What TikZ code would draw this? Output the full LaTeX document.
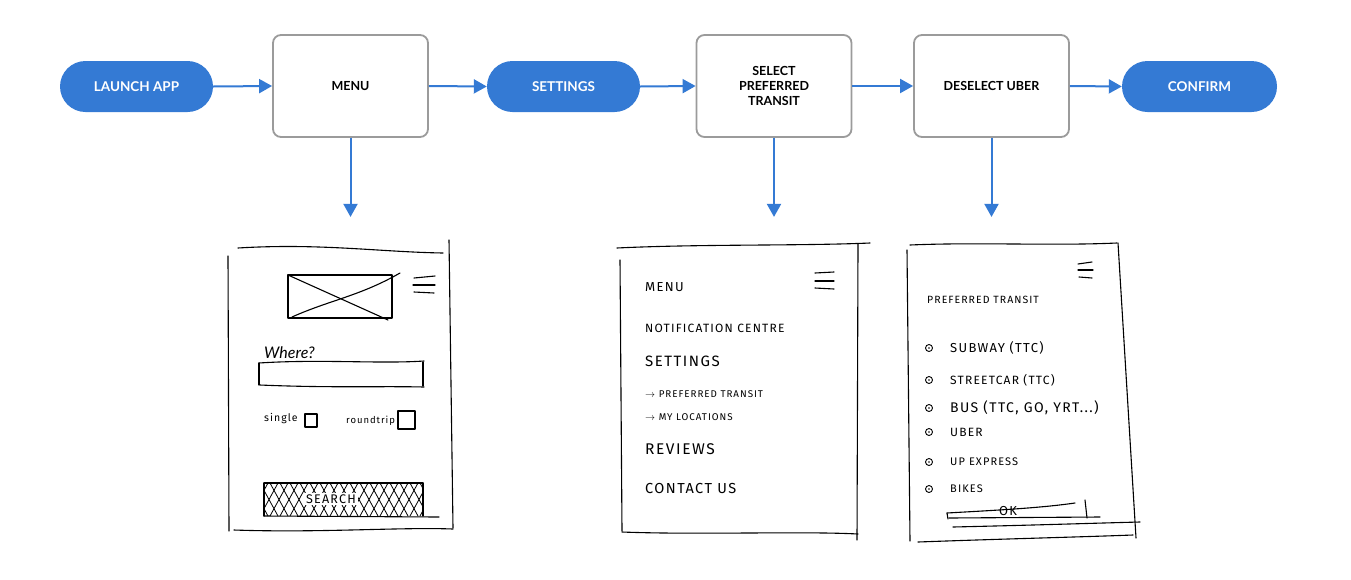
\documentclass[tikz,border=0pt]{standalone}
\usepackage{fontspec}
\setmainfont{Lato}
\newfontfamily\sketchfont[LetterSpace=10]{Fira Sans}
\usetikzlibrary{arrows.meta}

\definecolor{flowblue}{RGB}{52,122,212}
\definecolor{boxgrey}{RGB}{155,155,155}

\tikzset{
  pill/.style={fill=flowblue, text=white, rounded corners=25.5pt, minimum width=153pt,
    minimum height=51pt, inner sep=0pt, font=\bfseries\fontsize{13.5}{15}\selectfont},
  stepbox/.style={draw=boxgrey, line width=1.8pt, fill=white, rounded corners=8pt,
    minimum width=155pt, minimum height=102pt, align=center, inner sep=0pt,
    font=\bfseries\fontsize{12.5}{15}\selectfont},
  flow/.style={draw=flowblue, line width=2pt, -{Triangle[length=13pt,width=14pt]}},
  pen/.style={black, line width=1.1pt, line cap=round, line join=round},
  scribble/.style={anchor=west, inner sep=0pt, font=\sketchfont\fontsize{#1}{#1}\selectfont},
  scribble/.default=11,
  radio/.style={pen, line width=0.9pt}
}

\begin{document}
\begin{tikzpicture}[x=1pt, y=-1pt]
\useasboundingbox (0,0) rectangle (1351,579);

\node[pill] (launch) at (136.5,86.5) {LAUNCH APP};
\node[stepbox] (menu) at (350.5,86) {MENU};
\node[pill] (settings) at (563.5,86.5) {SETTINGS};
\node[stepbox] (select) at (774,86) {SELECT\\PREFERRED\\TRANSIT};
\node[stepbox] (deselect) at (991.5,86) {DESELECT UBER};
\node[pill, minimum width=155pt] (confirm) at (1199.5,86.5) {CONFIRM};

\draw[flow] (launch.east) -- (menu.west);
\draw[flow] (menu.east) -- (settings.west);
\draw[flow] (settings.east) -- (select.west);
\draw[flow] (select.east) -- (deselect.west);
\draw[flow] (deselect.east) -- (confirm.west);

\coordinate (homeshot) at ([yshift=-79pt]menu.south);
\coordinate (menushot) at ([yshift=-79pt]select.south);
\coordinate (transitshot) at ([yshift=-79pt]deselect.south);
\draw[flow] (menu.south) -- (homeshot);
\draw[flow] (select.south) -- (menushot);
\draw[flow] (deselect.south) -- (transitshot);

% home screen sketch
\draw[pen] (238,248) .. controls (320,243) and (380,252) .. (443,253);
\draw[pen] (228,256) -- (229,531);
\draw[pen] (449,240) -- (453,528);
\draw[pen] (234,530) .. controls (320,533) and (400,527) .. (453,529);
\draw[pen] (288,275) rectangle (392,318);
\draw[pen] (288,275) -- (388,320);
\draw[pen] (292,317) .. controls (330,300) and (360,296) .. (400,273);
\draw[pen] (414,278) -- (435,276);
\draw[pen] (413,285) -- (435,285);
\draw[pen] (414,292) -- (434,293);
\node[scribble, font=\fontsize{16}{16}\selectfont\itshape] (where) at (264,353) {Where?};
\draw[pen] (259,363) .. controls (320,359) and (380,364) .. (424,361);
\draw[pen] (259,363) -- (259,385);
\draw[pen] (260,385) .. controls (330,388) and (380,386) .. (424,387);
\draw[pen] (423,362) -- (423,386);
\node[scribble=10.5] (single) at (264,419) {single};
\draw[pen] (305,414) rectangle (317,427);
\node[scribble=9.5] (roundtrip) at (346,421) {roundtrip};
\draw[pen] (398,411) rectangle (415,429);
\begin{scope}
\clip (264,483) rectangle (423,516);
\foreach \hx in {230,240,...,430} {
  \draw[pen, line width=0.8pt] (\hx,516) -- (\hx+18,483);
  \draw[pen, line width=0.8pt] (\hx,483) -- (\hx+18,516);
}
\end{scope}
\draw[pen] (264,483) -- (423,483);
\draw[pen] (264,483) -- (264,516);
\draw[pen] (423,483) -- (423,516);
\draw[pen] (264,516) -- (439,517);
\node[scribble=12.5, anchor=center, fill=white, inner sep=2pt] (search) at (331,499) {SEARCH};

% menu screen sketch
\draw[pen] (617,248) .. controls (700,244) and (800,246) .. (870,243);
\draw[pen] (620,260) -- (622,531);
\draw[pen] (858,244) -- (857,540);
\draw[pen] (622,532) .. controls (700,535) and (800,531) .. (858,534);
\draw[pen] (815,273) -- (834,272);
\draw[pen] (815,281) -- (834,281);
\draw[pen] (815,288) -- (834,289);
\node[scribble=13] (mtitle) at (645,287) {MENU};
\node[scribble=12] (mnotify) at (645,328) {NOTIFICATION CENTRE};
\node[scribble=15] (msettings) at (645,361) {SETTINGS};
\node[scribble=9.8] (mpreferred) at (645,394) {$\rightarrow$ PREFERRED TRANSIT};
\node[scribble=9.8] (mlocations) at (645,417) {$\rightarrow$ MY LOCATIONS};
\node[scribble=15.5] (mreviews) at (645,449) {REVIEWS};
\node[scribble=14.5] (mcontact) at (645,488) {CONTACT US};

% preferred transit sketch
\draw[pen] (910,245) .. controls (980,242) and (1050,246) .. (1117,243);
\draw[pen] (907,250) -- (910,541);
\draw[pen] (1118,243) -- (1136,538);
\draw[pen] (918,542) .. controls (1000,539) and (1080,537) .. (1133,535);
\draw[pen] (1078,264) -- (1092,262);
\draw[pen] (1078,270) -- (1093,270);
\draw[pen] (1079,277) -- (1092,278);
\node[scribble=10.5] (ptitle) at (927,300) {PREFERRED TRANSIT};
\foreach \ry in {348,380,408,432,462,489} {
  \draw[radio] (929,\ry) circle (3.5pt);
  \fill (929,\ry) circle (0.9pt);
}
\node[scribble=13] (psubway) at (950,348) {SUBWAY (TTC)};
\node[scribble=12] (pstreetcar) at (950,380) {STREETCAR (TTC)};
\node[scribble=14] (pbus) at (950,408) {BUS (TTC, GO, YRT...)};
\node[scribble=12] (puber) at (950,432) {UBER};
\node[scribble=11] (pexpress) at (950,462) {UP EXPRESS};
\node[scribble=11] (pbikes) at (950,489) {BIKES};
\draw[pen] (947,513) .. controls (1000,510) and (1040,508) .. (1075,503);
\draw[pen] (947,513) -- (948,519);
\draw[pen] (1085,500) -- (1087,518);
\draw[pen] (949,518) -- (1100,517);
\draw[pen] (953,527) .. controls (1040,525) and (1100,523) .. (1140,522);
\node[scribble=13, anchor=center] (pok) at (1008,511) {OK};
\end{tikzpicture}
\end{document}
